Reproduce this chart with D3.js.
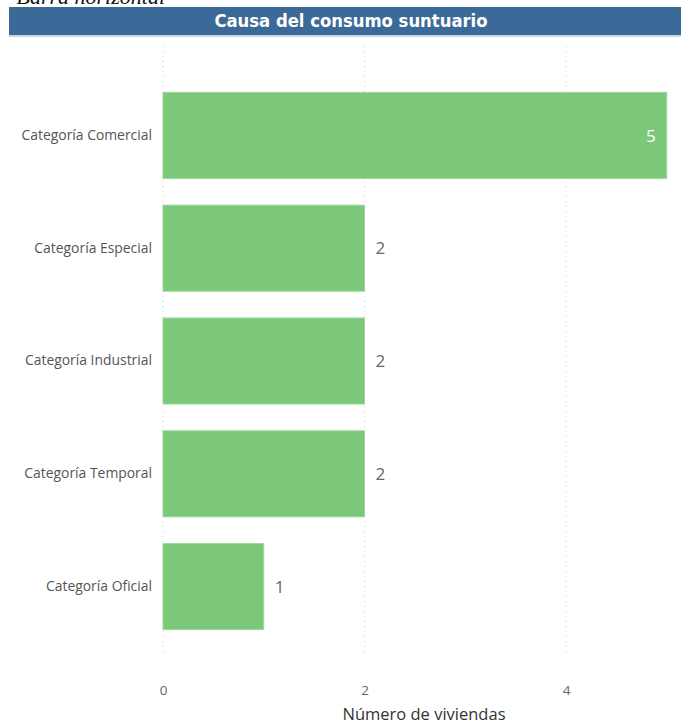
<!DOCTYPE html>
<html>
<head>
<meta charset="utf-8">
<script src="https://cdn.jsdelivr.net/npm/d3@7"></script>
<style>
  html, body { margin: 0; padding: 0; background: #fff; }
  svg { display: block; }
</style>
</head>
<body>
<svg id="chart" width="681" height="724"></svg>
<script>
// Chart data
const categories = ["Categoría Comercial", "Categoría Especial", "Categoría Industrial", "Categoría Temporal", "Categoría Oficial"];
const values = [5, 2, 2, 2, 1];
const xTicks = [0, 2, 4];
const titleText = "Causa del consumo suntuario";
const xAxisTitle = "Número de viviendas";
const captionText = "Barra horizontal";

const data = categories.map((c, i) => ({ category: c, value: values[i] }));

const svg = d3.select("#chart");
const W = 681, H = 724;

// Caption above the visual (runs off the top edge)
svg.append("text")
  .attr("x", 165).attr("y", 4)
  .attr("text-anchor", "end")
  .attr("font-family", "Liberation Serif, serif")
  .attr("font-style", "italic")
  .attr("font-size", 22)
  .attr("fill", "#111")
  .text(captionText);

// Title bar
svg.append("rect")
  .attr("x", 9).attr("y", 7).attr("width", W - 9).attr("height", 28)
  .attr("fill", "#3c6a98");
svg.append("rect")
  .attr("x", 9).attr("y", 35).attr("width", W - 9).attr("height", 2)
  .attr("fill", "#c9d6e3");
svg.append("text")
  .attr("x", 351).attr("y", 27)
  .attr("text-anchor", "middle")
  .attr("font-family", "DejaVu Sans Condensed, DejaVu Sans, sans-serif")
  .attr("font-weight", "bold")
  .attr("font-size", 18.3)
  .attr("fill", "#fff")
  .text(titleText);

// Scales
const x = d3.scaleLinear().domain([0, 4]).range([163, 566]);
const y = d3.scaleBand()
  .domain(categories)
  .range([79, 643])
  .paddingInner(0.237)
  .paddingOuter(0.1186);

// Vertical dotted gridlines
svg.append("g")
  .selectAll("line")
  .data(xTicks)
  .join("line")
  .attr("x1", d => x(d)).attr("x2", d => x(d))
  .attr("y1", 46).attr("y2", 656)
  .attr("stroke", "#cfcfcf")
  .attr("stroke-width", 1)
  .attr("stroke-dasharray", "1,4");

// Bars
svg.append("g")
  .selectAll("rect")
  .data(data)
  .join("rect")
  .attr("x", x(0))
  .attr("y", d => y(d.category))
  .attr("width", d => x(d.value) - x(0))
  .attr("height", y.bandwidth())
  .attr("fill", "#7cc87b")
  .attr("stroke", "#9bd89a")
  .attr("stroke-width", 1);

// Value labels: inside the bar when it reaches the right edge, otherwise outside
const maxV = d3.max(values);
svg.append("g")
  .selectAll("text")
  .data(data)
  .join("text")
  .attr("x", d => d.value === maxV ? x(d.value) - 11 : x(d.value) + 11)
  .attr("y", d => y(d.category) + y.bandwidth() / 2)
  .attr("dy", "0.36em")
  .attr("text-anchor", d => d.value === maxV ? "end" : "start")
  .attr("font-family", "Open Sans, Noto Sans, sans-serif")
  .attr("font-size", 17)
  .attr("fill", d => d.value === maxV ? "#ffffff" : "#666666")
  .text(d => d.value);

// Category axis (labels only)
const yAxis = svg.append("g")
  .attr("transform", `translate(${x(0)},0)`)
  .call(d3.axisLeft(y).tickSize(0).tickPadding(11));
yAxis.select(".domain").remove();
yAxis.selectAll("text")
  .attr("font-family", "Open Sans, Noto Sans, sans-serif")
  .attr("font-size", 13.9)
  .attr("fill", "#555");

// Value axis (labels only)
const xAxis = svg.append("g")
  .attr("transform", "translate(0,685)")
  .call(d3.axisBottom(x).tickValues(xTicks).tickSize(0).tickPadding(0).tickFormat(d3.format("d")));
xAxis.select(".domain").remove();
xAxis.selectAll("text")
  .attr("font-family", "Open Sans, Noto Sans, sans-serif")
  .attr("font-size", 13.5)
  .attr("fill", "#666");

// Axis title
svg.append("text")
  .attr("x", 424).attr("y", 720)
  .attr("text-anchor", "middle")
  .attr("font-family", "Open Sans, Noto Sans, sans-serif")
  .attr("font-size", 16.5)
  .attr("fill", "#333")
  .text(xAxisTitle);
</script>
</body>
</html>
